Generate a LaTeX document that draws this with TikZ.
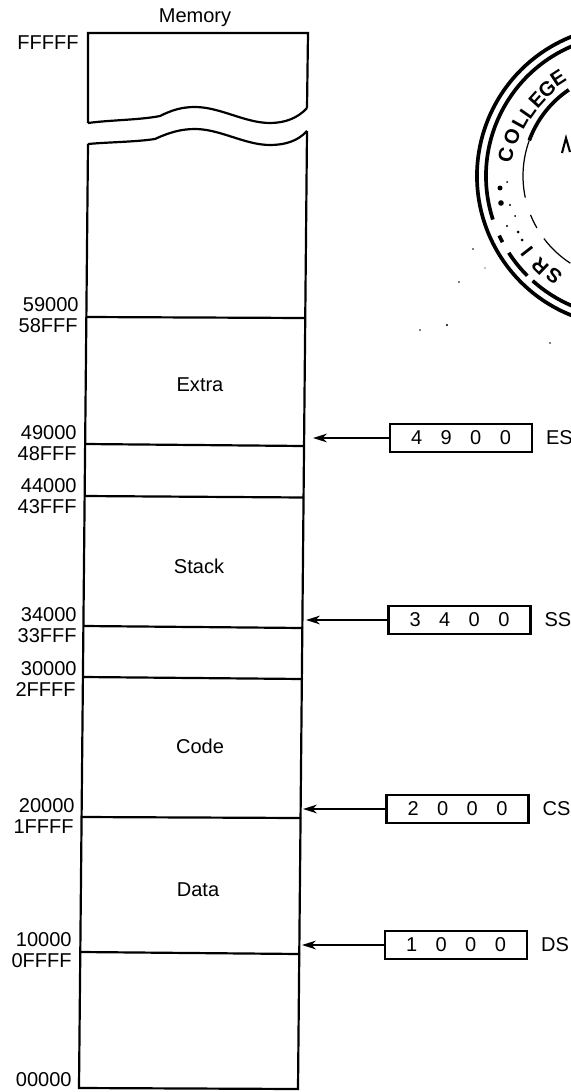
\documentclass[tikz,border=0pt]{standalone}
\usepackage{fontspec}
\setmainfont{Liberation Sans}
\usetikzlibrary{arrows.meta, positioning}

\tikzset{
	memline/.style={line width=1.25pt},
	addr/.style={anchor=east, inner sep=0pt, font=\fontsize{11.4}{13}\selectfont},
	seglabel/.style={inner sep=0pt, font=\fontsize{11.4}{13}\selectfont},
	regbox/.style={draw, line width=1.4pt, inner sep=0pt, minimum width=2.84cm, minimum height=0.55cm, font=\fontsize{11.4}{13}\selectfont},
	regname/.style={right=0.25cm of #1, inner sep=0pt, font=\fontsize{11.4}{13}\selectfont},
	regarrow/.style={-{Stealth[length=8pt, width=5pt]}, line width=0.85pt},
	stampline/.style={line width=2.1pt},
	stampthin/.style={line width=0.7pt},
	stampch/.style={inner sep=0pt, font=\fontsize{11.5}{13}\bfseries\selectfont}
}
\newcommand{\regval}[4]{#1\hspace{10.5pt}#2\hspace{10.5pt}#3\hspace{10.5pt}#4}

\begin{document}
\begin{tikzpicture}[x=0.02cm, y=-0.02cm]
	\useasboundingbox (0, 0) rectangle (571, 1092);

	%% memory outline
	\draw[memline] (88, 123) -- (88, 33) -- (308, 33) -- (307, 108);
	\draw[memline] (88, 123) .. controls (110, 120) and (140, 120) .. (160, 116)
		.. controls (172, 110) and (182, 107) .. (195, 107)
		.. controls (220, 107) and (245, 123) .. (270, 123)
		.. controls (285, 123) and (298, 118) .. (307, 108);
	\draw[memline] (88, 144) .. controls (110, 142) and (135, 142) .. (155, 139)
		.. controls (170, 132) and (182, 129) .. (195, 129)
		.. controls (220, 129) and (245, 145) .. (270, 145)
		.. controls (285, 145) and (298, 141) .. (307, 131);
	\draw[memline] (88, 144) -- (79, 1088) -- (298, 1089) -- (307, 131);

	%% segment boundaries
	\draw[memline] (86, 317) -- (305, 318);
	\draw[memline] (85, 444) -- (304, 446);
	\draw[memline] (84.5, 496) -- (304, 497.5);
	\draw[memline] (84, 626) -- (303, 628);
	\draw[memline] (83, 677) -- (303, 679);
	\draw[memline] (82, 817) -- (301, 818);
	\draw[memline] (81, 952) -- (300, 954);

	%% title and segment names
	\node[seglabel] (memtitle) at (195, 18) {Memory};
	\node[seglabel] (extra) at (200, 385) {Extra};
	\node[seglabel] (stack) at (199, 566) {Stack};
	\node[seglabel] (code) at (200, 746) {Code};
	\node[seglabel] (data) at (198, 890) {Data};

	%% addresses
	\node[addr] (aFFFFF) at (79, 43) {FFFFF};
	\node[addr] (a59000) at (79, 305) {59000};
	\node[addr] (a58FFF) at (78, 326) {58FFF};
	\node[addr] (a49000) at (77, 433) {49000};
	\node[addr] (a48FFF) at (77, 454) {48FFF};
	\node[addr] (a44000) at (77, 486) {44000};
	\node[addr] (a43FFF) at (77, 507) {43FFF};
	\node[addr] (a34000) at (77, 615) {34000};
	\node[addr] (a33FFF) at (77, 636) {33FFF};
	\node[addr] (a30000) at (77, 669) {30000};
	\node[addr] (a2FFFF) at (76, 689) {2FFFF};
	\node[addr] (a20000) at (75, 806) {20000};
	\node[addr] (a1FFFF) at (74, 827) {1FFFF};
	\node[addr] (a10000) at (72, 940) {10000};
	\node[addr] (a0FFFF) at (72, 961) {0FFFF};
	\node[addr] (a00000) at (72, 1080) {00000};

	%% segment registers
	\node[regbox] (es) at (461, 438) {\regval{4}{9}{0}{0}};
	\node[regbox] (ss) at (459.5, 620) {\regval{3}{4}{0}{0}};
	\node[regbox] (cs) at (457.5, 809) {\regval{2}{0}{0}{0}};
	\node[regbox] (ds) at (456, 945) {\regval{1}{0}{0}{0}};

	\node[regname=es] (esname) {ES};
	\node[regname=ss] (ssname) {SS};
	\node[regname=cs] (csname) {CS};
	\node[regname=ds] (dsname) {DS};

	%% register pointers
	\coordinate (estip) at (313, 438);
	\coordinate (sstip) at (306, 620);
	\coordinate (cstip) at (303, 809);
	\coordinate (dstip) at (302, 945);

	\draw[regarrow] (es.west) -- (estip);
	\draw[regarrow] (ss.west) -- (sstip);
	\draw[regarrow] (cs.west) -- (cstip);
	\draw[regarrow] (ds.west) -- (dstip);

	%% stamp rings
	\draw[stampline] (627, 176) ++(110:150) arc[start angle=110, end angle=250, radius=150];
	\draw[stampline] (627, 176) ++(113:141) arc[start angle=113, end angle=132, radius=141];
	\draw[stampline] (627, 176) ++(135:141) arc[start angle=135, end angle=147, radius=141];
	\draw[stampline] (627, 176) ++(152:141) arc[start angle=152, end angle=155, radius=141];
	\draw[stampline] (627, 176) ++(162:141) arc[start angle=162, end angle=247, radius=141];
	\draw[stampline] (627, 176) ++(200:104) arc[start angle=200, end angle=236, radius=104];
	\draw[stampthin] (627, 176) ++(168:104) arc[start angle=168, end angle=200, radius=104];
	\draw[stampthin] (627, 176) ++(150:104) arc[start angle=150, end angle=158, radius=104];
	\draw[stampthin] (627, 176) ++(123:104) arc[start angle=123, end angle=143, radius=104];

	%% stamp letters
	\node[stampch, rotate=79] (lc1) at (506, 155) {C};
	\node[stampch, rotate=70] (lc2) at (512, 137) {O};
	\node[stampch, rotate=61] (lc3) at (520, 122) {L};
	\node[stampch, rotate=55] (lc4) at (528, 111) {L};
	\node[stampch, rotate=48] (lc5) at (537, 100) {E};
	\node[stampch, rotate=42] (lc6) at (547, 89) {G};
	\node[stampch, rotate=33] (lc7) at (558, 78) {E};
	\node[stampch, rotate=142] (ls1) at (554, 276) {S};
	\node[stampch, rotate=136] (ls2) at (540, 266) {R};
	\node[stampch, rotate=128] (ls3) at (527, 252) {I};
	\draw[stampline, line width=1.2pt] (562, 153) -- (566, 138) -- (570, 152);

	%% stamp specks
	\fill (447, 325) circle[radius=1.2];
	\fill (550, 343) circle[radius=0.8];
	\fill (459, 282) circle[radius=0.8];
	\fill (473, 249) circle[radius=0.8];
	\fill (485, 268) circle[radius=0.6];
	\fill (420, 330) circle[radius=0.8];
	\fill (500, 188) circle[radius=2.5];
	\fill (501, 203) circle[radius=2.8];
	\fill (507, 182) circle[radius=1];
	\fill (510, 205) circle[radius=1.2];
	\fill (507, 226) circle[radius=1.2];
	\fill (515, 216) circle[radius=1];
	\fill (518, 232) circle[radius=1.5];
	\fill (522, 240) circle[radius=1.5];
\end{tikzpicture}
\end{document}
